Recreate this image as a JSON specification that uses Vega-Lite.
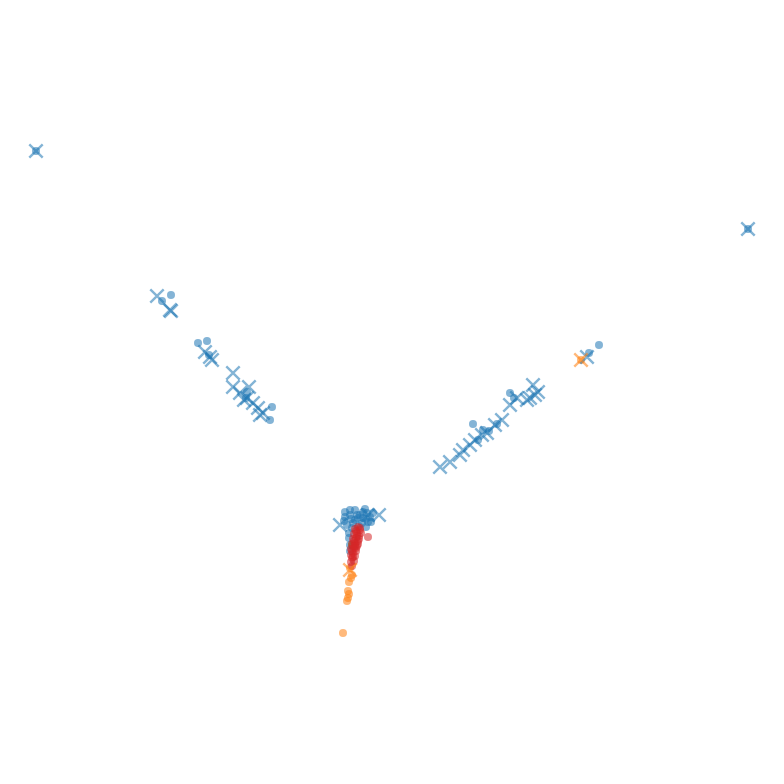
{
  "$schema": "https://vega.github.io/schema/vega-lite/v6.json",
  "autosize": {"type": "fit", "contains": "padding"},
  "width": 784,
  "height": 784,
  "padding": 0,
  "background": "white",
  "config": {"view": {"stroke": null}},
  "data": {"values": [
    {"x":36,"y":151,"c":"a","m":"o"},{"x":36,"y":151,"c":"a","m":"x"},
    {"x":748,"y":229,"c":"a","m":"o"},{"x":748,"y":229,"c":"a","m":"x"},
    {"x":157,"y":296,"c":"a","m":"x"},{"x":171,"y":295,"c":"a","m":"o"},{"x":162,"y":301,"c":"a","m":"o"},
    {"x":171,"y":311,"c":"a","m":"x"},{"x":170,"y":310,"c":"a","m":"x"},
    {"x":198,"y":343,"c":"a","m":"o"},{"x":207,"y":341,"c":"a","m":"o"},{"x":205,"y":352,"c":"a","m":"x"},
    {"x":210,"y":357,"c":"a","m":"x"},{"x":212,"y":360,"c":"a","m":"x"},{"x":209,"y":355,"c":"a","m":"o"},
    {"x":233,"y":373,"c":"a","m":"x"},{"x":233,"y":387,"c":"a","m":"x"},{"x":249,"y":387,"c":"a","m":"x"},
    {"x":240,"y":393,"c":"a","m":"x"},{"x":247,"y":398,"c":"a","m":"x"},{"x":253,"y":403,"c":"a","m":"x"},
    {"x":258,"y":408,"c":"a","m":"x"},{"x":263,"y":413,"c":"a","m":"x"},{"x":244,"y":400,"c":"a","m":"x"},
    {"x":260,"y":415,"c":"a","m":"x"},{"x":247,"y":392,"c":"a","m":"o"},{"x":246,"y":398,"c":"a","m":"o"},
    {"x":272,"y":407,"c":"a","m":"o"},{"x":270,"y":420,"c":"a","m":"o"},
    {"x":440,"y":467,"c":"a","m":"x"},{"x":450,"y":462,"c":"a","m":"x"},{"x":460,"y":455,"c":"a","m":"x"},
    {"x":463,"y":450,"c":"a","m":"x"},{"x":470,"y":445,"c":"a","m":"x"},{"x":475,"y":440,"c":"a","m":"x"},
    {"x":482,"y":435,"c":"a","m":"x"},{"x":487,"y":433,"c":"a","m":"x"},{"x":495,"y":425,"c":"a","m":"x"},
    {"x":502,"y":420,"c":"a","m":"x"},{"x":510,"y":405,"c":"a","m":"x"},{"x":517,"y":398,"c":"a","m":"x"},
    {"x":527,"y":400,"c":"a","m":"x"},{"x":535,"y":395,"c":"a","m":"x"},{"x":533,"y":385,"c":"a","m":"x"},
    {"x":538,"y":392,"c":"a","m":"x"},{"x":530,"y":398,"c":"a","m":"x"},
    {"x":473,"y":424,"c":"a","m":"o"},{"x":510,"y":393,"c":"a","m":"o"},{"x":483,"y":430,"c":"a","m":"o"},
    {"x":478,"y":440,"c":"a","m":"o"},{"x":489,"y":431,"c":"a","m":"o"},{"x":497,"y":424,"c":"a","m":"o"},
    {"x":514,"y":398,"c":"a","m":"o"},
    {"x":587,"y":357,"c":"a","m":"x"},{"x":589,"y":353,"c":"a","m":"o"},{"x":599,"y":345,"c":"a","m":"o"},
    {"x":355,"y":510,"c":"a","m":"o"},{"x":363,"y":512,"c":"a","m":"o"},{"x":350,"y":515,"c":"a","m":"o"},
    {"x":345,"y":517,"c":"a","m":"o"},{"x":358,"y":518,"c":"a","m":"o"},{"x":370,"y":517,"c":"a","m":"o"},
    {"x":368,"y":522,"c":"a","m":"o"},{"x":362,"y":523,"c":"a","m":"o"},{"x":353,"y":523,"c":"a","m":"o"},
    {"x":347,"y":525,"c":"a","m":"o"},{"x":373,"y":513,"c":"a","m":"o"},{"x":367,"y":513,"c":"a","m":"o"},
    {"x":350,"y":510,"c":"a","m":"o"},{"x":357,"y":515,"c":"a","m":"o"},{"x":363,"y":518,"c":"a","m":"o"},
    {"x":344,"y":521,"c":"a","m":"o"},{"x":355,"y":520,"c":"a","m":"o"},{"x":360,"y":515,"c":"a","m":"o"},
    {"x":366,"y":519,"c":"a","m":"o"},{"x":371,"y":522,"c":"a","m":"o"},{"x":359,"y":526,"c":"a","m":"o"},
    {"x":351,"y":519,"c":"a","m":"o"},{"x":365,"y":509,"c":"a","m":"o"},{"x":345,"y":512,"c":"a","m":"o"},
    {"x":352,"y":528,"c":"a","m":"o"},{"x":349,"y":533,"c":"a","m":"o"},{"x":349,"y":538,"c":"a","m":"o"},
    {"x":350,"y":545,"c":"a","m":"o"},{"x":350,"y":551,"c":"a","m":"o"},{"x":366,"y":527,"c":"a","m":"o"},
    {"x":340,"y":525,"c":"a","m":"x"},{"x":379,"y":515,"c":"a","m":"x"},{"x":368,"y":515,"c":"a","m":"x"},
    {"x":352,"y":545,"c":"c","m":"o"},
    {"x":581,"y":360,"c":"b","m":"o"},{"x":581,"y":360,"c":"b","m":"x"},
    {"x":350,"y":570,"c":"b","m":"x"},{"x":351,"y":578,"c":"b","m":"o"},{"x":349,"y":582,"c":"b","m":"o"},
    {"x":352,"y":575,"c":"b","m":"o"},{"x":348,"y":591,"c":"b","m":"o"},{"x":348,"y":598,"c":"b","m":"o"},
    {"x":350,"y":568,"c":"b","m":"o"},{"x":349,"y":594,"c":"b","m":"o"},{"x":347,"y":601,"c":"b","m":"o"},
    {"x":343,"y":633,"c":"b","m":"o"},
    {"x":358,"y":527,"c":"d","m":"o"},{"x":355,"y":529,"c":"d","m":"o"},{"x":360,"y":530,"c":"d","m":"o"},
    {"x":357,"y":533,"c":"d","m":"o"},{"x":354,"y":534,"c":"d","m":"o"},{"x":359,"y":536,"c":"d","m":"o"},
    {"x":356,"y":538,"c":"d","m":"o"},{"x":353,"y":539,"c":"d","m":"o"},{"x":358,"y":541,"c":"d","m":"o"},
    {"x":355,"y":543,"c":"d","m":"o"},{"x":352,"y":544,"c":"d","m":"o"},{"x":357,"y":546,"c":"d","m":"o"},
    {"x":354,"y":548,"c":"d","m":"o"},{"x":351,"y":549,"c":"d","m":"o"},{"x":356,"y":551,"c":"d","m":"o"},
    {"x":353,"y":553,"c":"d","m":"o"},{"x":351,"y":555,"c":"d","m":"o"},{"x":355,"y":556,"c":"d","m":"o"},
    {"x":352,"y":558,"c":"d","m":"o"},{"x":354,"y":561,"c":"d","m":"o"},{"x":351,"y":562,"c":"d","m":"o"},
    {"x":352,"y":566,"c":"d","m":"o"},{"x":368,"y":537,"c":"d","m":"o"},{"x":360,"y":528,"c":"d","m":"o"},
    {"x":361,"y":533,"c":"d","m":"o"},{"x":356,"y":531,"c":"d","m":"o"},{"x":359,"y":539,"c":"d","m":"o"},
    {"x":354,"y":541,"c":"d","m":"o"},{"x":358,"y":544,"c":"d","m":"o"},{"x":355,"y":546,"c":"d","m":"o"},
    {"x":352,"y":551,"c":"d","m":"o"},{"x":356,"y":548,"c":"d","m":"o"},{"x":353,"y":557,"c":"d","m":"o"},
    {"x":357,"y":536,"c":"d","m":"o"},{"x":353,"y":546,"c":"d","m":"o"}
  ]},
  "encoding": {
    "x": {"field": "x", "type": "quantitative", "scale": {"domain": [0, 784]}, "axis": null},
    "y": {"field": "y", "type": "quantitative", "scale": {"domain": [0, 784], "reverse": true}, "axis": null},
    "color": {"field": "c", "type": "nominal", "legend": null,
      "scale": {"domain": ["a", "b", "c", "d"], "range": ["#1f77b4", "#ff7f0e", "#2ca02c", "#d62728"]}}
  },
  "layer": [
    {
      "transform": [{"filter": "datum.m === 'o'"}],
      "mark": {"type": "point", "shape": "circle", "filled": true, "size": 64, "opacity": 0.55, "strokeWidth": 0}
    },
    {
      "transform": [{"filter": "datum.m === 'x'"}],
      "mark": {"type": "point", "shape": "M-1,-1L1,1M1,-1L-1,1", "filled": false, "size": 180, "opacity": 0.55, "strokeWidth": 2.4}
    }
  ]
}
